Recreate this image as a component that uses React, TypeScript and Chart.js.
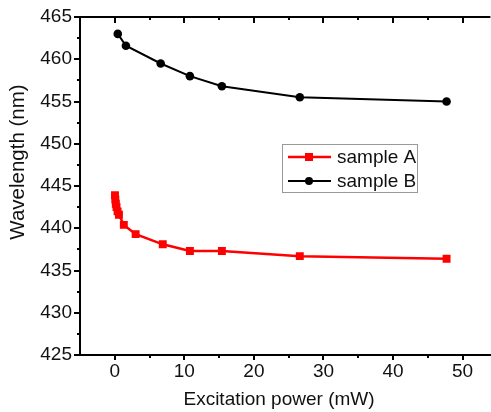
import React, { useEffect, useRef } from "react";
import { Chart, registerables } from "chart.js";

Chart.register(...registerables);

const xA = [0.03, 0.08, 0.15, 0.25, 0.4, 0.6, 1.3, 3.0, 6.9, 10.8, 15.4, 26.6, 47.7];
const yA = [443.9, 443.4, 442.9, 442.5, 442.0, 441.6, 440.4, 439.3, 438.1, 437.3, 437.3, 436.7, 436.4];
const xB = [0.43, 1.6, 6.6, 10.8, 15.4, 26.6, 47.7];
const yB = [463.0, 461.6, 459.5, 458.0, 456.8, 455.5, 455.0];

const xTicks = [0, 10, 20, 30, 40, 50];
const xMinor = [5, 15, 25, 35, 45];
const yTicks = [425, 430, 435, 440, 445, 450, 455, 460, 465];
const yMinor = [427.5, 432.5, 437.5, 442.5, 447.5, 452.5, 457.5, 462.5];

const seriesNames = ["sample A", "sample B"];
const xTitle = "Excitation power (mW)";
const yTitle = "Wavelength (nm)";

const FONT = "'Liberation Sans', Arial, sans-serif";

const framePlugin = {
  id: "frame",
  afterDraw(chart: any) {
    const { ctx, chartArea: a, scales } = chart;
    const x = scales.x;
    const y = scales.y;
    ctx.save();
    ctx.strokeStyle = "#000";
    ctx.lineWidth = 2;
    ctx.beginPath();
    ctx.moveTo(a.left - 1, a.top);
    ctx.lineTo(a.right, a.top);
    xTicks.forEach((v) => {
      const p = Math.round(x.getPixelForValue(v));
      ctx.moveTo(p, a.top);
      ctx.lineTo(p, a.top + 6);
    });
    xMinor.forEach((v) => {
      const p = Math.round(x.getPixelForValue(v));
      ctx.moveTo(p, a.top);
      ctx.lineTo(p, a.top + 3);
    });
    xMinor.forEach((v) => {
      const p = Math.round(x.getPixelForValue(v));
      ctx.moveTo(p, a.bottom);
      ctx.lineTo(p, a.bottom + 3);
    });
    yMinor.forEach((v) => {
      const p = Math.round(y.getPixelForValue(v));
      ctx.moveTo(a.left, p);
      ctx.lineTo(a.left - 3, p);
    });
    ctx.stroke();

    ctx.fillStyle = "#111";
    ctx.textAlign = "center";
    ctx.textBaseline = "middle";
    ctx.font = `19px ${FONT}`;
    ctx.fillText(xTitle, 279, 400);
    ctx.save();
    ctx.translate(18, 162);
    ctx.rotate(-Math.PI / 2);
    ctx.font = `20.5px ${FONT}`;
    ctx.fillText(yTitle, 0, 0);
    ctx.restore();

    const lx = 282, ly = 144, lw = 135, lh = 48;
    ctx.strokeStyle = "#999";
    ctx.lineWidth = 1;
    ctx.strokeRect(lx + 0.5, ly + 0.5, lw, lh);
    const rows = [ly + 13, ly + 37];
    const ds = chart.data.datasets;
    ctx.font = `19px ${FONT}`;
    rows.forEach((ry, i) => {
      const d = ds[i];
      ctx.strokeStyle = d.borderColor;
      ctx.lineWidth = d.borderWidth;
      ctx.beginPath();
      ctx.moveTo(lx + 6, ry);
      ctx.lineTo(lx + 49, ry);
      ctx.stroke();
      ctx.fillStyle = d.borderColor;
      if (d.pointStyle === "rect") {
        ctx.fillRect(lx + 23, ry - 4, 8, 8);
      } else {
        ctx.beginPath();
        ctx.arc(lx + 27, ry, 4, 0, Math.PI * 2);
        ctx.fill();
      }
      ctx.fillStyle = "#111";
      ctx.textAlign = "left";
      ctx.fillText(d.label, lx + 55, ry + 1);
    });
    ctx.restore();
  },
};

export default function App() {
  const ref = useRef<HTMLCanvasElement>(null);
  useEffect(() => {
    if (!ref.current) return;
    const chart = new Chart(ref.current, {
      type: "line",
      data: {
        datasets: [
          {
            label: seriesNames[0],
            data: xA.map((v, i) => ({ x: v, y: yA[i] })),
            borderColor: "#ff0000",
            backgroundColor: "#ff0000",
            borderWidth: 2.5,
            pointStyle: "rect",
            pointRadius: 5.6,
            pointBorderWidth: 0,
            tension: 0,
          },
          {
            label: seriesNames[1],
            data: xB.map((v, i) => ({ x: v, y: yB[i] })),
            borderColor: "#000000",
            backgroundColor: "#000000",
            borderWidth: 2,
            pointStyle: "circle",
            pointRadius: 4.3,
            pointBorderWidth: 0,
            tension: 0,
          },
        ],
      },
      options: {
        responsive: false,
        animation: false,
        layout: { padding: { top: 17, right: 0, left: 0, bottom: 0 } },
        plugins: { legend: { display: false }, tooltip: { enabled: false } },
        scales: {
          x: {
            type: "linear",
            min: -5,
            max: 54,
            afterBuildTicks: (s: any) => {
              s.ticks = xTicks.map((v) => ({ value: v }));
            },
            afterFit: (s: any) => {
              s.height = 57;
            },
            grid: {
              drawOnChartArea: false,
              drawTicks: true,
              tickLength: 5,
              lineWidth: 2,
              color: "#000",
            },
            border: { display: true, color: "#000", width: 2 },
            ticks: {
              color: "#111",
              font: { family: FONT, size: 19 },
              padding: 0,
              maxRotation: 0,
              autoSkip: false,
            },
          },
          y: {
            type: "linear",
            min: 425,
            max: 465,
            afterBuildTicks: (s: any) => {
              s.ticks = yTicks.map((v) => ({ value: v }));
            },
            afterFit: (s: any) => {
              s.width = 80;
            },
            grid: {
              drawOnChartArea: false,
              drawTicks: true,
              tickLength: 6,
              lineWidth: 2,
              color: "#000",
            },
            border: { display: true, color: "#000", width: 2 },
            ticks: {
              color: "#111",
              font: { family: FONT, size: 19 },
              padding: 2,
              autoSkip: false,
            },
          },
        },
      },
      plugins: [framePlugin],
    } as any);
    return () => chart.destroy();
  }, []);
  return (
    <div style={{ position: "absolute", left: 0, top: 0, width: 491, height: 412, overflow: "hidden", background: "#fff" }}>
      <canvas ref={ref} width={496} height={412} />
    </div>
  );
}
